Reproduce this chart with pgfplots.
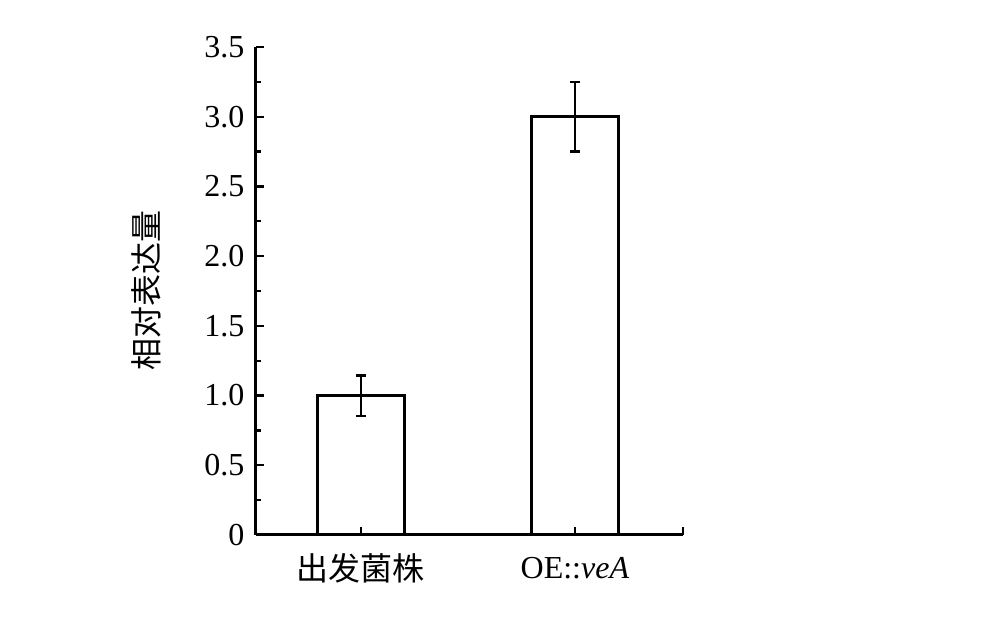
\documentclass[border=0pt]{standalone}
\usepackage{pgfplots}
\pgfplotsset{compat=1.18}
\usepackage{fontspec}
\setmainfont{Liberation Serif}
\newfontfamily\cjk{Noto Sans CJK SC}
\begin{document}
\begin{tikzpicture}
\path[use as bounding box] (-256pt,-83pt) rectangle (743pt,535pt);
\begin{axis}[
    scale only axis,
    width=427pt, height=488pt,
    xmin=-0.49, xmax=1.505,
    ymin=0, ymax=3.5,
    axis on top,
    axis lines*=left,
    axis line style={line width=3pt},
    every tick/.style={black, line width=2.4pt},
    tick align=inside,
    major tick length=8pt,
    minor tick length=5pt,
    xtick={0,1},
    xticklabels={{\fontsize{32}{32}\selectfont\cjk 出发菌株},{OE::\textit{veA}}},
    extra x ticks={1.505},
    extra x tick labels={},
    ytick={0,0.5,1.0,1.5,2.0,2.5,3.0,3.5},
    yticklabels={0,0.5,1.0,1.5,2.0,2.5,3.0,3.5},
    minor ytick={0.25,0.75,1.25,1.75,2.25,2.75,3.25},
    tick label style={font=\fontsize{32}{32}\selectfont},
    xticklabel style={anchor=center, yshift=-33pt},
    yticklabel style={xshift=-8pt},
    ylabel={\cjk 相对表达量},
    ylabel style={at={(axis description cs:-0.258,0.5)}, anchor=center,
                  font=\fontsize{32}{32}\selectfont},
    clip=false,
]
\addplot[ybar, bar width=87pt, fill=white, draw=black, line width=2.8pt,
    error bars/.cd, y dir=both, y explicit,
    error bar style={line width=2.6pt},
    error mark options={rotate=90, mark size=5pt, line width=2.4pt}]
    coordinates {(0,1.0) +- (0,0.145) (1,3.0) +- (0,0.25)};
\end{axis}
\end{tikzpicture}
\end{document}
